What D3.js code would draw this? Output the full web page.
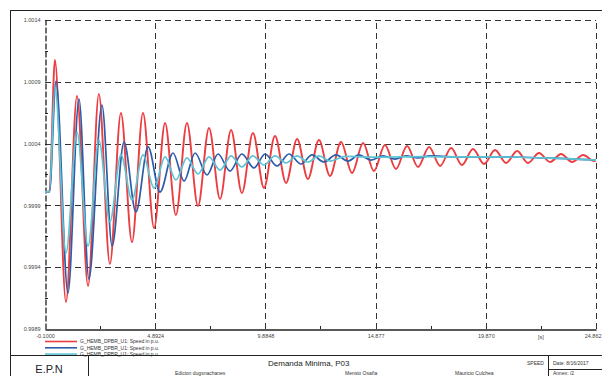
<!DOCTYPE html>
<html><head><meta charset="utf-8">
<script src="https://cdn.jsdelivr.net/npm/d3@7"></script>
<style>
html,body{margin:0;padding:0;background:#fff;}
svg{display:block;font-family:"Liberation Sans",Arial,sans-serif;}
</style></head>
<body>
<svg id="c" width="602" height="376"></svg>
<script>
// ---- data (time [s], speed [p.u.]) ----
const xTickValues = [-0.1, 4.8924, 9.8848, 14.877, 19.870, 24.862];
const xTickLabels = ["-0.1000", "4.8924", "9.8848", "14.877", "19.870", "24.862"];
const yTickValues = [0.9989, 0.9994, 0.9999, 1.0004, 1.0009, 1.0014];
const yTickLabels = ["0.9989", "0.9994", "0.9999", "1.0004", "1.0009", "1.0014"];
const seriesNames = ["G_HEMB_DPBR_U1: Speed in p.u.", "G_HEMB_DPBR_U1: Speed in p.u.", "G_HEMB_DPBR_U1: Speed in p.u."];

const redSeries = [
 [-0.1,1.000010],[0.10,1.000010],[0.35,1.001076],[0.85,0.999118],[1.35,1.000785],[1.85,0.999248],
 [2.34,1.000801],[2.84,0.999426],[3.34,1.000648],[3.84,0.999604],[4.34,1.000648],[4.84,0.999717],
 [5.34,1.000567],[5.83,0.999822],[6.33,1.000567],[6.83,0.999895],[7.33,1.000526],[7.83,0.999952],
 [8.33,1.000510],[8.82,1.000000],[9.32,1.000486],[9.82,1.000041],[10.32,1.000462],[10.82,1.000081],
 [11.32,1.000437],[11.81,1.000114],[12.31,1.000429],[12.81,1.000138],[13.31,1.000413],[13.81,1.000162],
 [14.31,1.000405],[14.80,1.000178],[15.30,1.000389],[15.80,1.000195],[16.30,1.000381],[16.80,1.000211],
 [17.30,1.000373],[17.80,1.000219],[18.30,1.000364],[18.79,1.000227],[19.29,1.000356],[19.79,1.000235],
 [20.29,1.000348],[20.79,1.000243],[21.29,1.000340],[21.78,1.000243],[22.28,1.000324],[22.78,1.000251],
 [23.28,1.000316],[23.78,1.000251],[24.28,1.000308],[24.77,1.000259],[24.862,1.000262]
];
const blueSeries = [
 [-0.1,1.000010],[0.10,1.000010],[0.40,1.000906],[0.94,0.999191],[1.44,1.000761],[1.89,0.999305],
 [2.48,1.000712],[2.94,0.999572],[3.48,1.000413],[4.02,0.999847],[4.57,1.000373],[5.11,1.000008],
 [5.70,1.000324],[6.20,1.000097],[6.70,1.000324],[7.24,1.000146],[7.74,1.000316],[8.28,1.000178],
 [8.82,1.000316],[9.37,1.000203],[9.87,1.000316],[10.41,1.000219],[10.95,1.000316],[11.50,1.000235],
 [12.00,1.000308],[12.54,1.000251],[13.08,1.000308],[13.63,1.000259],[14.12,1.000308],[14.67,1.000267],
 [15.21,1.000300],[15.76,1.000275],[16.25,1.000300],[16.80,1.000284],[17.34,1.000300],
 [18.5,1.000292],[20.5,1.000292],[22.5,1.000284],[24.862,1.000267]
];
const cyanSeries = [
 [-0.1,1.000010],[0.10,1.000010],[0.35,1.000858],[0.85,0.999515],[1.35,1.000494],[1.85,0.999572],
 [2.34,1.000429],[2.84,0.999766],[3.34,1.000308],[3.84,0.999944],[4.34,1.000308],[4.84,1.000041],
 [5.34,1.000292],[5.83,1.000106],[6.33,1.000284],[6.83,1.000154],[7.33,1.000292],[7.83,1.000186],
 [8.33,1.000300],[8.82,1.000211],[9.32,1.000300],[9.82,1.000227],[10.32,1.000300],[10.82,1.000243],
 [11.32,1.000300],[11.81,1.000251],[12.31,1.000300],[12.81,1.000259],[13.5,1.000296],
 [15.0,1.000290],[17.0,1.000294],[18.5,1.000292],[20.5,1.000292],[22.5,1.000284],[24.862,1.000267]
];
const seriesColors = ["#ec3d40", "#2d5ca8", "#5cc4d4"];

// ---- drawing ----
const svg = d3.select("#c");
const W = 602, H = 376;
const x = d3.scaleLinear().domain([-0.1, 24.862]).range([45, 596]);
const y = d3.scaleLinear().domain([0.9989, 1.0014]).range([329, 20]);

// outer frame
svg.append("rect").attr("x",10.5).attr("y",10.5).attr("width",W-10).attr("height",H)
  .attr("fill","none").attr("stroke","#222").attr("stroke-width",1);

// grid (dashed)
const grid = svg.append("g").attr("stroke","#333").attr("stroke-width",1).attr("stroke-dasharray","6,4");
grid.selectAll("line.h").data(yTickValues.slice(1)).join("line")
  .attr("x1",x(-0.1)).attr("x2",x(24.862)).attr("y1",d=>Math.round(y(d))+0.5).attr("y2",d=>Math.round(y(d))+0.5);
grid.selectAll("line.v").data(xTickValues.slice(1)).join("line")
  .attr("y1",y(0.9989)).attr("y2",y(1.0014)).attr("x1",d=>Math.round(x(d))+0.5).attr("x2",d=>Math.round(x(d))+0.5);

// axes
const fmtY = d => yTickLabels[yTickValues.indexOf(d)];
const fmtX = d => xTickLabels[xTickValues.indexOf(d)];
const yAxis = d3.axisLeft(y).tickValues(yTickValues).tickFormat(fmtY).tickSize(0).tickPadding(5);
const gy = svg.append("g").attr("transform","translate(45.5,0)").call(yAxis);
gy.select(".domain").attr("stroke","#222").attr("stroke-width",1.3).attr("stroke-dasharray","6,2");
gy.selectAll("text").attr("font-size",5.5).attr("fill","#444").attr("font-family","Liberation Sans, Arial");

const xAxis = d3.axisBottom(x).tickValues(xTickValues).tickFormat(fmtX).tickSize(0).tickPadding(5);
const gx = svg.append("g").attr("transform","translate(0,329.5)").call(xAxis);
gx.select(".domain").attr("stroke","#222").attr("stroke-width",1.3);
gx.selectAll("text").attr("font-size",5.5).attr("fill","#444").attr("font-family","Liberation Sans, Arial");
// keep the last label inside the window
gx.selectAll(".tick").filter(d => d === xTickValues[xTickValues.length-1])
  .select("text").attr("text-anchor","end").attr("dx", 5);

// minor ticks
const yMinor = d3.pairs(yTickValues).map(p => (p[0]+p[1])/2);
svg.append("g").selectAll("line").data(yMinor).join("line")
  .attr("x1",45).attr("x2",48).attr("y1",d=>Math.round(y(d))+0.5).attr("y2",d=>Math.round(y(d))+0.5)
  .attr("stroke","#222").attr("stroke-width",1);
const xMinor = d3.pairs(xTickValues).map(p => (p[0]+p[1])/2);
svg.append("g").selectAll("line").data(xMinor).join("line")
  .attr("y1",329).attr("y2",326).attr("x1",d=>Math.round(x(d))+0.5).attr("x2",d=>Math.round(x(d))+0.5)
  .attr("stroke","#222").attr("stroke-width",1);
svg.append("text").attr("x",x(xMinor[4])).attr("y",338.5).attr("text-anchor","middle")
  .attr("font-size",5.5).attr("fill","#444").text("[s]");

// series
const line = d3.line().x(d=>x(d[0])).y(d=>y(d[1])).curve(d3.curveMonotoneX);
[redSeries, blueSeries, cyanSeries].forEach((s,i)=>{
  svg.append("path").datum(s).attr("d",line).attr("fill","none")
    .attr("stroke",seriesColors[i]).attr("stroke-width", i===0?1.9:1.7)
    .attr("stroke-linejoin","round");
});

// legend
const lg = svg.append("g");
seriesNames.forEach((n,i)=>{
  const yy = 341.5 + i*6.3;
  lg.append("line").attr("x1",45).attr("x2",77).attr("y1",yy).attr("y2",yy)
    .attr("stroke",seriesColors[i]).attr("stroke-width",1.6);
  lg.append("text").attr("x",80).attr("y",yy+1.8).attr("font-size",5).attr("fill","#333").text(n);
});

// title block
const tb = svg.append("g").attr("stroke","#222").attr("stroke-width",1);
tb.append("line").attr("x1",10).attr("x2",W).attr("y1",355.5).attr("y2",355.5);
tb.append("line").attr("x1",88.5).attr("x2",88.5).attr("y1",355).attr("y2",H);
tb.append("line").attr("x1",548.5).attr("x2",548.5).attr("y1",355).attr("y2",H);
tb.append("line").attr("x1",548).attr("x2",W).attr("y1",369.5).attr("y2",369.5);
svg.append("text").attr("x",49).attr("y",373).attr("text-anchor","middle")
  .attr("font-size",11).attr("fill","#222").text("E.P.N");
svg.append("text").attr("x",268).attr("y",366).attr("font-size",8).attr("fill","#222").text("Demanda Minima, P03");
svg.append("text").attr("x",527).attr("y",365).attr("font-size",5).attr("fill","#333").text("SPEED");
svg.append("text").attr("x",553).attr("y",365).attr("font-size",5).attr("fill","#333").text("Date: 8/16/2017");
svg.append("text").attr("x",553).attr("y",375).attr("font-size",5).attr("fill","#333").text("Annex:   /2");
svg.append("text").attr("x",175).attr("y",375).attr("font-size",5).attr("fill","#333").text("Edicion dugsnachanes");
svg.append("text").attr("x",345).attr("y",375).attr("font-size",5).attr("fill","#333").text("Mensio Osaña");
svg.append("text").attr("x",455).attr("y",375).attr("font-size",5).attr("fill","#333").text("Mauricio Culchea");
</script>
</body></html>
